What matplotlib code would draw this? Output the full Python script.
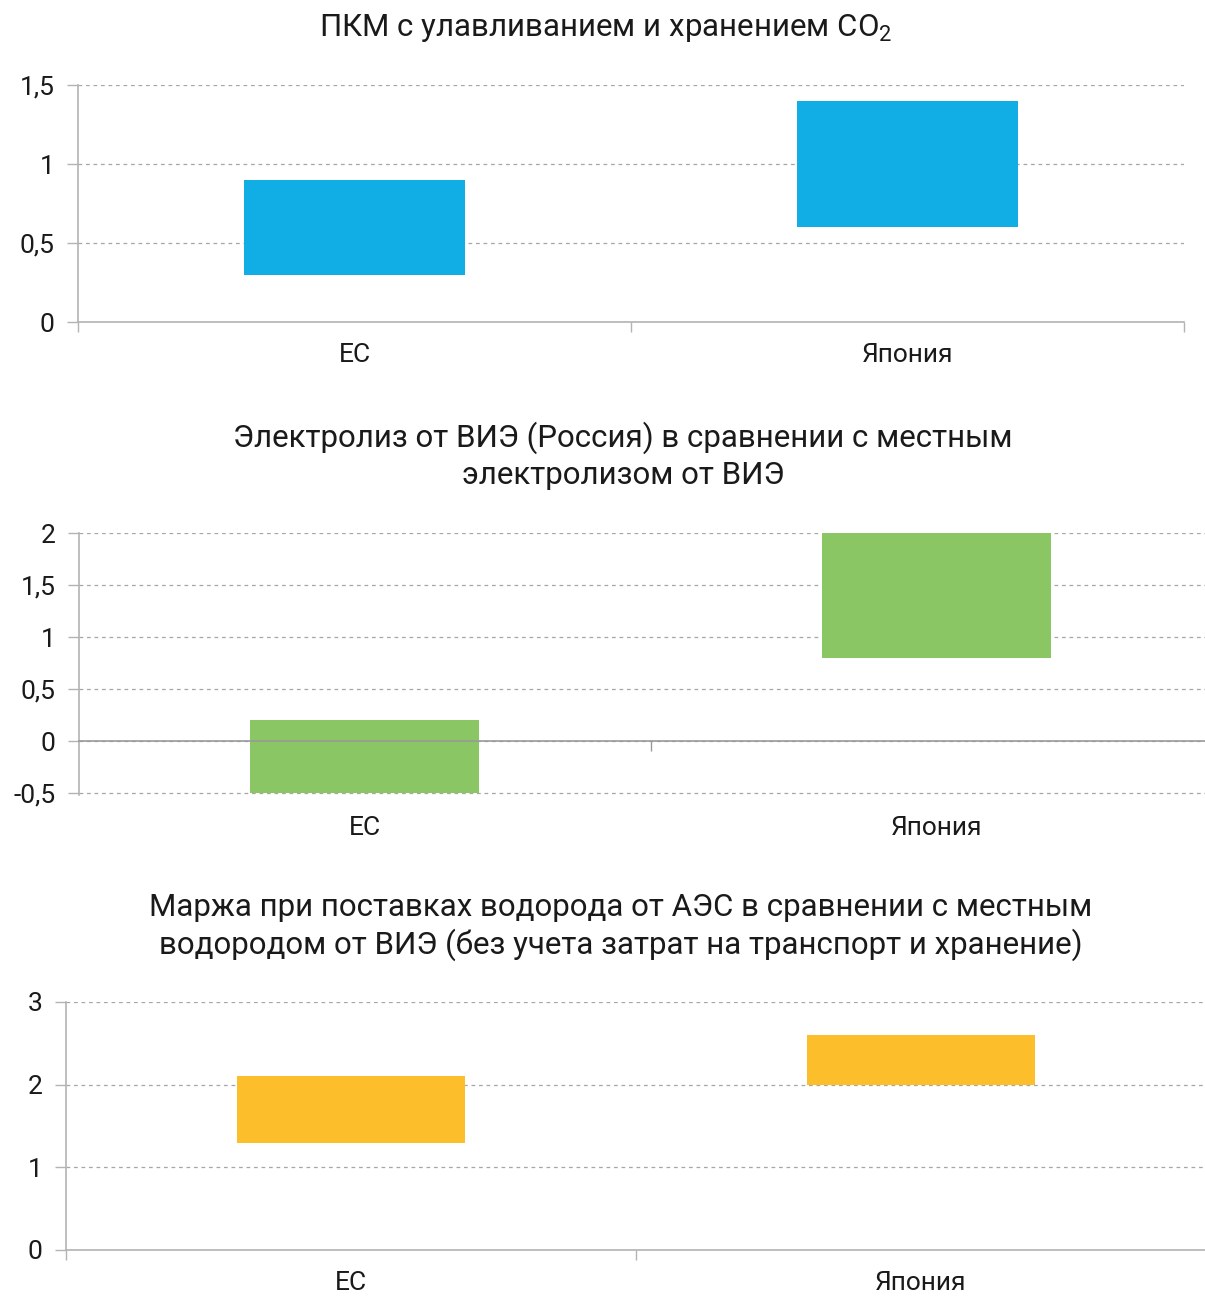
import matplotlib
matplotlib.use("Agg")
import matplotlib.pyplot as plt
from matplotlib.ticker import FuncFormatter

plt.rcParams["font.family"] = ["Roboto", "DejaVu Sans"]
plt.rcParams["mathtext.fontset"] = "custom"
plt.rcParams["mathtext.rm"] = "Roboto"
plt.rcParams["mathtext.it"] = "Roboto"

categories = ["ЕС", "Япония"]

# CCS-equipped plants
ccs_low  = [0.3, 0.6]
ccs_high = [0.9, 1.4]

# Electrolysis from renewables (Russia) vs local electrolysis
elec_low  = [-0.5, 0.8]
elec_high = [0.2, 2.0]

# NPP hydrogen vs local renewable hydrogen
npp_low  = [1.3, 2.0]
npp_high = [2.1, 2.6]

titles = [
    "ПКМ с улавливанием и хранением CO$_2$",
    "Электролиз от ВИЭ (Россия) в сравнении с местным\nэлектролизом от ВИЭ",
    "Маржа при поставках водорода от АЭС в сравнении с местным\nводородом от ВИЭ (без учета затрат на транспорт и хранение)",
]

AXIS_GREY = "#b3b3b3"
GRID_GREY = "#a6a6a6"
TEXT = "#1a1a1a"


def comma(v, pos):
    s = f"{v:g}"
    return s.replace(".", ",")


def floating_bars(ax, low, high, color, ylim, yticks):
    x = list(range(len(categories)))
    heights = [h - l for l, h in zip(low, high)]
    ax.bar(x, heights, bottom=low, width=0.4, color=color, zorder=3)
    ax.set_xlim(-0.5, len(categories) - 0.5)
    ax.set_ylim(*ylim)
    ax.set_yticks(yticks)
    ax.yaxis.set_major_formatter(FuncFormatter(comma))
    ax.set_xticks(x)
    ax.set_xticklabels(categories)
    ax.set_xticks([i - 0.5 for i in range(len(categories) + 1)], minor=True)
    ax.tick_params(axis="x", which="major", length=0, pad=15,
                   labelsize=19, labelcolor=TEXT)
    ax.tick_params(axis="x", which="minor", length=7, width=1, color=AXIS_GREY)
    ax.tick_params(axis="y", length=8, width=1, color=AXIS_GREY,
                   labelsize=19, labelcolor=TEXT, pad=9)
    ax.grid(axis="y", color=GRID_GREY, linestyle=(0, (3, 3)), linewidth=0.9, zorder=0)
    for side in ("top", "right"):
        ax.spines[side].set_visible(False)
    ax.spines["left"].set_color(AXIS_GREY)
    ax.spines["bottom"].set_color(AXIS_GREY)
    ax.spines["left"].set_linewidth(1.2)
    ax.spines["bottom"].set_linewidth(1.2)


fig = plt.figure(figsize=(12.05, 12.96), dpi=100)

ax1 = fig.add_axes([0.0647, 0.7515, 0.9178, 0.1829])
floating_bars(ax1, ccs_low, ccs_high, "#10aee4", (0, 1.5), [0, 0.5, 1, 1.5])

ax2 = fig.add_axes([0.0656, 0.3865, 0.9485, 0.2022])
floating_bars(ax2, elec_low, elec_high, "#8bc664", (-0.52, 2), [-0.5, 0, 0.5, 1, 1.5, 2])
# zero line with category boundary ticks hanging from it
ax2.spines["bottom"].set_visible(False)
ax2.tick_params(axis="x", which="minor", length=0)
zero_frac = (0 - ax2.get_ylim()[0]) / (ax2.get_ylim()[1] - ax2.get_ylim()[0])
sec = ax2.secondary_xaxis(zero_frac)
sec.set_xticks([0.5])
sec.set_xticklabels([])
sec.tick_params(length=7, width=1, color="#999999")
sec.spines["bottom"].set_color("#999999")
sec.spines["bottom"].set_linewidth(1.2)
sec.set_zorder(4)

ax3 = fig.add_axes([0.0548, 0.0355, 0.9461, 0.1914])
floating_bars(ax3, npp_low, npp_high, "#fdbe2c", (0, 3), [0, 1, 2, 3])

fig.text(0.503, 0.9784, titles[0], ha="center", va="center", fontsize=22.5, color=TEXT)
fig.text(0.517, 0.6481, titles[1], ha="center", va="center", fontsize=22.5,
         color=TEXT, multialignment="center", linespacing=1.3)
fig.text(0.515, 0.2850, titles[2], ha="center", va="center", fontsize=22.5,
         color=TEXT, multialignment="center", linespacing=1.25)

fig.savefig("out.png", dpi=100, facecolor="white")
